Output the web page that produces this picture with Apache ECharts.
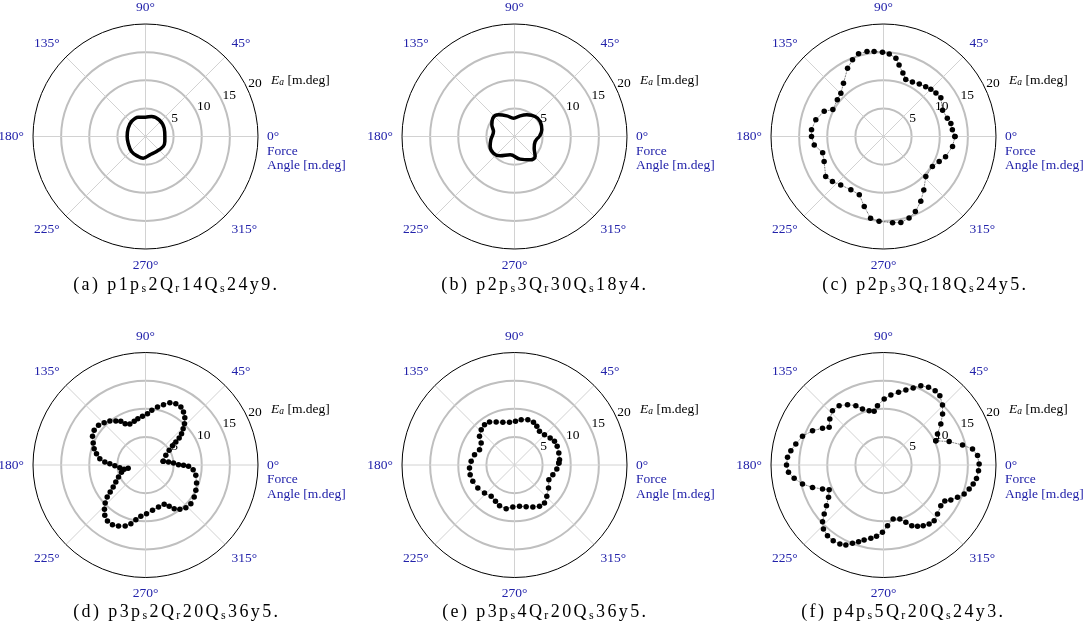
<!DOCTYPE html>
<html><head><meta charset="utf-8">
<script src="https://cdn.jsdelivr.net/npm/echarts@6/dist/echarts.min.js"></script>
<style>html,body{margin:0;padding:0;background:#fff}#c{width:1091px;height:635px}</style>
</head><body><div id="c"></div><script>
// ---------- data: [force angle (deg), Ea (m.deg)] ----------
const seriesA = [[0,3.44],[24,3.63],[50.6,3.83],[73.3,3.71],[90,3.44],[110.8,3.67],[133,3.65],[154.3,3.42],[180,3.26],[201,3.3],[227,3.65],[250,3.79],[263.9,3.87],[283.3,3.35],[306.3,3.31],[330.5,3.61],[345.5,3.55]];
const seriesB = [[0,4.44],[13.7,5.0],[30.3,5.29],[44,5.11],[60.4,4.43],[74.7,3.81],[93,3.26],[110.4,3.92],[126.4,4.79],[139.8,5.05],[152.8,4.53],[166.6,3.84],[188,4.25],[202.3,4.68],[218.4,4.77],[233.4,4.28],[256.7,3.35],[284,4.15],[303.9,5.0],[315.9,5.11],[329.3,4.07],[346.4,3.78]];
const seriesC = [[0,12.7],[5.5,12.3],[11,12.2],[16,11.8],[24,11.5],[34,12.3],[39.6,12.1],[45,11.9],[49.7,11.6],[55.7,11.3],[62,10.95],[68.7,10.9],[73,11.8],[77.7,13.0],[81,14.1],[86,14.7],[90.7,15.0],[96.3,15.2],[101,15.4],[106.8,15.35],[112,14.7],[117.8,13.7],[126.9,11.85],[134.6,10.8],[141.4,10.5],[152,10.2],[157,11.45],[166,12.4],[174.7,12.85],[180,12.8],[186.9,12.4],[195,11.2],[202.8,11.45],[214.7,12.5],[221.4,12.1],[228.6,11.5],[238.5,11.1],[247.4,11.2],[254.6,12.9],[261,14.7],[267,15.1],[276,15.4],[281.4,15.6],[287.4,15.2],[293,14.5],[299.9,13.3],[307,11.9],[316.6,10.35],[328.5,10.2],[335.8,10.85],[342,11.6],[351.8,12.4]];
const seriesD = [[11.7,3.21],[25.4,4.0],[31.8,4.95],[35.6,5.9],[37.2,6.77],[38.7,7.67],[41,8.49],[44,9.3],[46.7,10.1],[50.3,10.94],[54.4,11.6],[58.6,12.07],[63.7,12.16],[68.7,11.9],[73.4,11.2],[78.3,10.53],[83.4,9.78],[87.8,9.13],[93.5,8.67],[99.4,8.35],[104.5,8.02],[110.9,7.8],[116.2,8.19],[119.5,8.92],[124,9.43],[129,10.07],[134.3,10.52],[139.8,10.93],[146,11.01],[151.6,10.71],[157.2,10.09],[162.4,9.58],[167,8.94],[172.1,8.2],[175.8,7.25],[177.9,6.35],[181.2,5.45],[185.9,4.59],[191.5,3.87],[190.9,3.14],[197,4.46],[204,5.25],[209.8,6.08],[214.2,6.95],[217.4,7.9],[219.9,8.88],[223.3,9.85],[227.2,10.74],[231,11.5],[235.8,12.03],[241,12.12],[246.1,11.86],[251.6,11.43],[256,10.75],[260,9.87],[264.8,9.16],[271.2,8.65],[278.8,8.15],[287.2,7.82],[295.4,7.74],[299.8,8.47],[303.3,9.29],[307.8,9.97],[313.4,10.44],[319.5,10.6],[326.7,10.36],[333.3,10.02],[340.6,9.62],[348.4,9.13],[354.4,8.51],[358.2,7.65],[359.5,6.76],[0.6,5.87],[4.1,4.99],[7.4,4.12]];
const seriesE = [[2.6,7.89],[6.8,8.06],[15.1,8.16],[23.6,8.28],[30.6,8.26],[37.1,7.95],[45.3,7.58],[53.4,7.45],[60,7.94],[66,8.3],[73.6,8.4],[81.6,8.15],[88.7,7.77],[96.7,7.64],[105.3,7.86],[113.1,8.31],[120.2,8.84],[126.6,8.94],[133.3,8.63],[140.7,8.04],[146.6,7.1],[156.3,6.79],[165.5,7.34],[175.2,7.73],[183.8,8.02],[192.3,8.07],[201.4,7.96],[212.1,7.7],[223,7.3],[233.3,6.94],[242.4,7.29],[249.8,7.7],[259.2,7.9],[267.7,7.47],[276.9,7.4],[285.6,7.69],[293.6,8.15],[301.2,8.59],[308.3,8.6],[315.9,8.0],[325.9,7.3],[336.9,6.64],[345.8,7.03],[354.6,7.56]];
const seriesF = [[24.9,10.26],[19.6,12.39],[14.2,14.49],[10.2,16.08],[5.7,16.8],[0.6,17.0],[356.6,16.92],[351.8,16.7],[348,16.3],[344.3,15.82],[340.2,15.24],[336.4,14.36],[332.5,13.49],[329.6,12.64],[324.6,12.49],[317.8,12.96],[312.3,13.38],[307.7,13.26],[303.2,12.89],[299,12.47],[295,11.9],[291.3,10.94],[286.8,10.03],[280.1,9.75],[273.8,10.81],[269.1,11.97],[264.4,12.74],[260.2,13.23],[255.5,13.77],[252,14.34],[248.4,14.98],[244.8,15.72],[241.1,16.05],[236.4,16.16],[231.6,16.03],[226.8,15.6],[222.9,14.8],[219.6,13.68],[215.5,12.45],[210.5,11.34],[204.4,10.61],[201.5,11.65],[197.5,13.23],[193.2,14.79],[188.5,16.06],[184.4,16.94],[180,17.24],[175.4,17.12],[171.2,16.67],[166.5,16.03],[160.5,15.28],[154.2,14.02],[149,12.65],[145.3,11.75],[139.4,12.57],[133.2,13.25],[126.8,13.17],[120.8,12.49],[115,11.64],[110.6,10.63],[104.8,9.99],[99.9,9.68],[95.8,10.6],[89.4,11.73],[84,12.51],[78.3,13.19],[73.4,13.91],[68.9,14.67],[64.8,15.59],[59.9,15.96],[55.2,16.09],[50.9,15.88],[45.5,14.96],[40.8,13.87],[35.6,12.53],[29.9,11.07]];

const captions = [
  ['(a) p1p','s','2Q','r','14Q','s','24y9.'],
  ['(b) p2p','s','3Q','r','30Q','s','18y4.'],
  ['(c) p2p','s','3Q','r','18Q','s','24y5.'],
  ['(d) p3p','s','2Q','r','20Q','s','36y5.'],
  ['(e) p3p','s','4Q','r','20Q','s','36y5.'],
  ['(f) p4p','s','5Q','r','20Q','s','24y3.']
];
const angleTickStep = 45;
const radiusTicks = [0, 5, 10, 15, 20];
const radiusName = ['E', 'a', ' [m.deg]'];
const angleName = ['Force', 'Angle [m.deg]'];

// ---------- layout ----------
const centers = [[145.5,136.5],[514.5,136.5],[883.5,136.5],[145.5,465],[514.5,465],[883.5,465]];
const R = 112.5;
const capLeft = [72, 440, 821, 72, 441, 800];
const capTop = [275, 275, 275, 602, 602, 602];
const serif = 'Liberation Serif';
const BLUE = '#2222aa';
const FS = 13.5;
const allSeries = [seriesA, seriesB, seriesC, seriesD, seriesE, seriesF];

const pad = 1.2;
function capText(parts) {
  let s = '';
  parts.forEach((p, i) => {
    if (i % 2 === 0) { for (const ch of p) s += '{n|' + ch + '}'; }
    else s += '{s|' + p + '}';
  });
  return s;
}

const polar = [], angleAxis = [], radiusAxis = [], series = [], title = [];
for (let i = 0; i < 6; i++) {
  polar.push({ center: centers[i], radius: R });
  angleAxis.push({
    polarIndex: i, type: 'value', min: 0, max: 360, interval: angleTickStep,
    startAngle: 0, clockwise: false, z: 2,
    axisLine: { lineStyle: { color: '#000', width: 1 } },
    axisTick: { show: false },
    splitLine: { lineStyle: { color: '#d2d2d2', width: 1 } },
    axisLabel: {
      color: BLUE, fontFamily: serif, fontSize: FS, margin: 9, lineHeight: 14.5,
      formatter: v => v === 0 ? '\n\n0°\n' + angleName[0] + '\n' + angleName[1] : (v === 360 ? '' : v + '°')
    }
  });
  radiusAxis.push({
    polarIndex: i, min: radiusTicks[0], max: radiusTicks[radiusTicks.length - 1], interval: 5, z: 1,
    axisLine: { show: false }, axisTick: { show: false }, axisLabel: { show: false },
    splitLine: { lineStyle: { color: ['#bfbfbf','#bfbfbf','#bfbfbf','#bfbfbf','rgba(0,0,0,0)'], width: 2 } }
  });
}
// second polar per panel just for the radius tick labels / name along ~24°
for (let i = 0; i < 6; i++) {
  polar.push({ center: centers[i], radius: R });
  angleAxis.push({ polarIndex: 6 + i, type: 'value', min: 0, max: 360, startAngle: 24, show: false });
  radiusAxis.push({
    polarIndex: 6 + i, min: radiusTicks[0], max: radiusTicks[radiusTicks.length - 1], interval: 5, z: 3,
    axisLine: { show: false }, axisTick: { show: false }, splitLine: { show: false },
    axisLabel: { show: true, rotate: 0, margin: 0, align: 'left', verticalAlign: 'bottom',
      color: '#000', fontFamily: serif, fontSize: FS,
      formatter: v => v === 0 ? '' : String(v) },
    name: '{e|' + radiusName[0] + '}{s|' + radiusName[1] + '}{n|' + radiusName[2] + '}',
    nameLocation: 'end', nameGap: 25,
    nameTextStyle: { rich: {
      e: { fontFamily: serif, fontStyle: 'italic', fontSize: FS, color: '#000' },
      s: { fontFamily: serif, fontStyle: 'italic', fontSize: 9.5, color: '#000', verticalAlign: 'bottom', lineHeight: 9 },
      n: { fontFamily: serif, fontSize: FS, color: '#000' }
    } }
  });
}
for (let i = 0; i < 6; i++) {
  const pts = allSeries[i].map(p => [p[1], p[0]]);
  pts.push(pts[0]);
  const dense = i < 2;
  series.push({
    type: 'line', coordinateSystem: 'polar', polarIndex: i, data: pts,
    smooth: dense ? 0.4 : false, z: 5,
    showSymbol: !dense, symbol: 'circle', symbolSize: 5.5,
    itemStyle: { color: '#000' },
    lineStyle: dense ? { color: '#000', width: 3.5 } : { color: '#222', width: 0.8, type: 'dotted' },
    emphasis: { disabled: true }
  });
  title.push({
    left: capLeft[i], top: capTop[i], padding: 0,
    text: capText(captions[i]),
    textStyle: { fontWeight: 'normal', rich: {
      n: { fontFamily: serif, fontSize: 18, fontWeight: 'normal', color: '#000', lineHeight: 20, padding: [0, pad, 0, pad] },
      s: { fontFamily: serif, fontSize: 12, fontWeight: 'normal', color: '#000', verticalAlign: 'bottom', lineHeight: 13, padding: [0, pad, 0, pad] }
    } }
  });
}

const chart = echarts.init(document.getElementById('c'), null, { renderer: 'canvas' });
chart.setOption({ animation: false, backgroundColor: '#fff', title, polar, angleAxis, radiusAxis, series });
</script></body></html>
